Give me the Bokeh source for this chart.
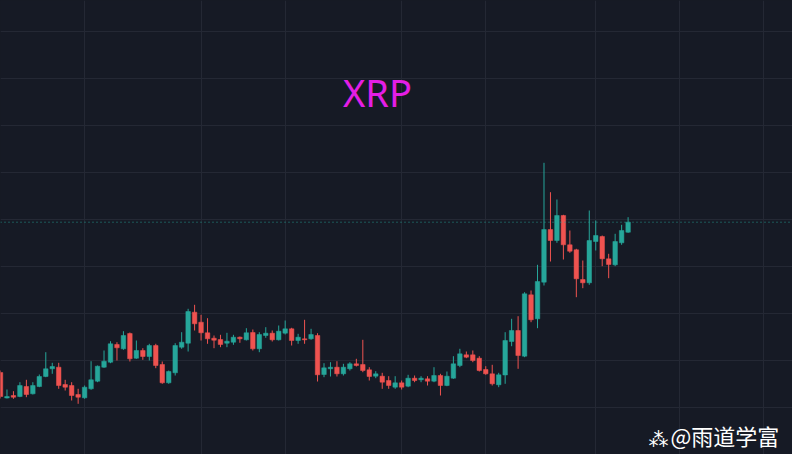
from bokeh.plotting import figure
from bokeh.models import Range1d, Grid, FixedTicker, Label, Span, ColumnDataSource, GlobalInlineStyleSheet
from bokeh.embed import file_html
from bokeh.resources import INLINE

# ---- data (daily candles, USD) ----
opens = [0.88, 0.625, 0.65, 0.64, 0.74, 0.667, 0.74, 0.84, 0.917, 0.933,
         0.76, 0.75, 0.66, 0.627, 0.717, 0.793, 0.933, 0.983, 1.16, 1.117,
         1.27, 1.023, 1.10, 1.04, 1.15, 0.96, 0.777, 0.877, 1.133, 1.173,
         1.483, 1.383, 1.277, 1.223, 1.21, 1.173, 1.183, 1.233, 1.207, 1.28,
         1.117, 1.25, 1.273, 1.207, 1.273, 1.317, 1.20, 1.217, 1.217, 1.25,
         0.86, 0.917, 0.933, 0.867, 0.917, 0.967, 0.96, 0.907, 0.843, 0.843,
         0.80, 0.733, 0.777, 0.743, 0.823, 0.807, 0.817, 0.793, 0.85, 0.75,
         0.823, 0.95, 1.057, 1.057, 1.023, 0.91, 0.867, 0.757, 0.855, 1.19,
         1.30, 1.043, 1.657, 1.417, 1.783, 2.31, 2.20, 2.45, 2.157, 2.107,
         1.81, 1.777, 2.19, 2.24, 2.017, 1.957, 2.177, 2.283]
highs = [0.90, 0.71, 0.693, 0.783, 0.807, 0.783, 0.86, 1.083, 0.977, 0.977,
         0.807, 0.783, 0.717, 0.75, 0.993, 0.95, 1.10, 1.193, 1.183, 1.293,
         1.28, 1.20, 1.123, 1.167, 1.167, 0.99, 0.90, 1.173, 1.283, 1.517,
         1.557, 1.457, 1.423, 1.25, 1.257, 1.277, 1.257, 1.24, 1.323, 1.31,
         1.283, 1.333, 1.30, 1.35, 1.40, 1.327, 1.267, 1.407, 1.317, 1.273,
         0.973, 0.983, 0.993, 0.967, 0.983, 1.017, 1.207, 0.933, 0.893, 0.877,
         0.843, 0.843, 0.80, 0.857, 0.85, 0.843, 0.843, 0.933, 0.867, 0.89,
         1.043, 1.117, 1.09, 1.10, 1.043, 0.943, 0.957, 0.877, 1.283, 1.417,
         1.443, 1.683, 1.70, 1.957, 2.977, 2.683, 2.61, 2.457, 2.30, 2.117,
         2.00, 2.50, 2.40, 2.25, 2.067, 2.267, 2.357, 2.433]
lows = [0.62, 0.62, 0.617, 0.633, 0.633, 0.66, 0.733, 0.833, 0.867, 0.717,
        0.70, 0.60, 0.567, 0.617, 0.707, 0.783, 0.927, 0.973, 1.00, 1.107,
        0.99, 1.017, 1.007, 1.00, 0.923, 0.767, 0.767, 0.85, 1.117, 1.09,
        1.30, 1.20, 1.167, 1.123, 1.133, 1.133, 1.157, 1.177, 1.20, 1.10,
        1.083, 1.227, 1.19, 1.20, 1.26, 1.15, 1.167, 1.167, 1.207, 0.79,
        0.833, 0.84, 0.84, 0.85, 0.90, 0.94, 0.883, 0.80, 0.823, 0.717,
        0.717, 0.717, 0.71, 0.733, 0.783, 0.783, 0.75, 0.783, 0.65, 0.743,
        0.817, 0.933, 1.023, 0.983, 0.89, 0.857, 0.75, 0.733, 0.767, 1.143,
        0.917, 1.033, 1.383, 1.323, 1.75, 1.99, 2.177, 2.01, 2.077, 1.633,
        1.723, 1.757, 2.10, 1.943, 1.823, 1.943, 2.157, 2.277]
closes = [0.64, 0.64, 0.633, 0.75, 0.66, 0.75, 0.84, 0.917, 0.94, 0.75,
          0.733, 0.65, 0.633, 0.733, 0.807, 0.943, 0.993, 1.167, 1.127, 1.25,
          1.017, 1.10, 1.04, 1.15, 0.95, 0.777, 0.89, 1.15, 1.183, 1.49,
          1.367, 1.277, 1.217, 1.203, 1.16, 1.193, 1.233, 1.217, 1.277, 1.117,
          1.26, 1.273, 1.207, 1.293, 1.317, 1.20, 1.233, 1.207, 1.26, 0.857,
          0.927, 0.933, 0.867, 0.933, 0.967, 0.95, 0.90, 0.84, 0.867, 0.783,
          0.75, 0.777, 0.733, 0.823, 0.80, 0.823, 0.793, 0.85, 0.75, 0.843,
          0.967, 1.067, 1.033, 1.00, 0.90, 0.867, 0.767, 0.857, 1.20, 1.30,
          1.05, 1.667, 1.407, 1.79, 2.31, 2.20, 2.45, 2.157, 2.093, 1.817,
          1.777, 2.20, 2.25, 2.017, 1.96, 2.19, 2.30, 2.383]

title_text = "XRP"
watermark_text = "@雨道学富"
x_grid_ticks = [13, 31, 44, 62, 75, 92, 105, 118]
y_grid_ticks = [0.53, 1.00, 1.47, 1.94, 2.41, 2.88, 3.35, 3.82, 4.29]

UP = "#26a69a"
DOWN = "#ef5350"
BG = "#161a25"
GRID = "#242834"

idx = list(range(len(opens)))
colors = [UP if c >= o else DOWN for o, c in zip(opens, closes)]
tops = [max(o, c) for o, c in zip(opens, closes)]
bottoms = [min(o, c) for o, c in zip(opens, closes)]

src = ColumnDataSource(dict(x=idx, o=opens, h=highs, l=lows, c=closes,
                            top=tops, bottom=bottoms, color=colors))

p = figure(width=792, height=454, output_backend="svg", toolbar_location=None,
           x_axis_type=None, y_axis_type=None,
           x_range=Range1d(0.0, 122.41), y_range=Range1d(0.06, 4.60),
           min_border=0)
p.background_fill_color = BG
p.border_fill_color = BG
p.outline_line_color = None
p.stylesheets = [GlobalInlineStyleSheet(css="html,body{margin:0;padding:0;background:%s;overflow:hidden;}" % BG)]

p.add_layout(Grid(dimension=0, ticker=FixedTicker(ticks=x_grid_ticks),
                  grid_line_color=GRID, grid_line_width=1))
p.add_layout(Grid(dimension=1, ticker=FixedTicker(ticks=y_grid_ticks),
                  grid_line_color=GRID, grid_line_width=1))

p.segment(x0="x", y0="h", x1="x", y1="l", color="color", line_width=1, source=src)
p.vbar(x="x", width=0.7, top="top", bottom="bottom", fill_color="color",
       line_color="color", line_width=0.5, source=src)

p.add_layout(Span(location=closes[-1], dimension="width", line_color=UP,
                  line_dash="1 3", line_width=1, line_alpha=0.9))

p.add_layout(Label(x=377, y=363, x_units="screen", y_units="screen",
                   text=title_text, text_align="center", text_baseline="alphabetic",
                   text_font="Noto Sans", text_font_size="38px", text_color="#e41ee6"))

p.add_layout(Label(x=648, y=4, x_units="screen", y_units="screen",
                   text="⁂", text_align="left", text_baseline="bottom",
                   text_font="DejaVu Sans", text_font_size="20px", text_color="#ffffff"))
p.add_layout(Label(x=670, y=4, x_units="screen", y_units="screen",
                   text=watermark_text, text_align="left", text_baseline="bottom",
                   text_font="Noto Sans CJK SC", text_font_size="22px", text_color="#ffffff"))

open("out.html", "w").write(file_html(p, INLINE))
